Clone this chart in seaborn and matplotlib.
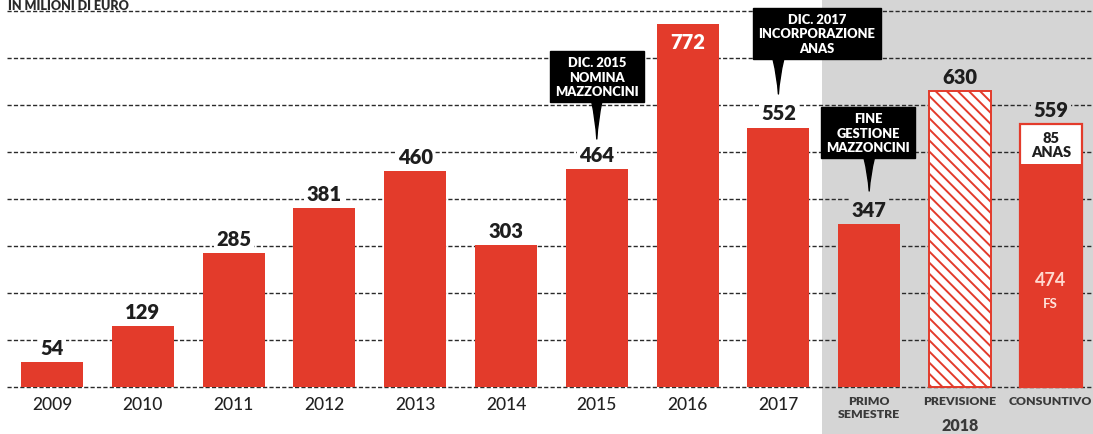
import matplotlib
matplotlib.use("Agg")
import matplotlib.pyplot as plt
import seaborn as sns
import pandas as pd

# ---- data ----
categories = ["2009", "2010", "2011", "2012", "2013", "2014", "2015", "2016", "2017",
              "PRIMO SEMESTRE", "PREVISIONE", "CONSUNTIVO"]
values = [54, 129, 285, 381, 460, 303, 464, 772, 552, 347, 630, 559]
tick_labels = ["2009", "2010", "2011", "2012", "2013", "2014", "2015", "2016", "2017",
               "PRIMO\nSEMESTRE", "PREVISIONE", "CONSUNTIVO"]
fs_value = 474
anas_value = 85
group_label = "2018"
unit_label = "IN MILIONI DI EURO"
callouts = [
    ("DIC. 2015\nNOMINA\nMAZZONCINI", "2015"),
    ("DIC. 2017\nINCORPORAZIONE\nANAS", "2017"),
    ("FINE\nGESTIONE\nMAZZONCINI", "PRIMO SEMESTRE"),
]
grid_values = [0, 100, 200, 300, 400, 500, 600, 700, 800]

RED = "#e33b2b"
GREY = "#d5d5d5"
DARK = "#1e1e1e"

sns.set_style("white")
plt.rcParams["font.family"] = ["Lato", "DejaVu Sans"]
plt.rcParams["hatch.linewidth"] = 1.4

W, H = 1093, 435
fig = plt.figure(figsize=(W / 100, H / 100), dpi=100)
ax = fig.add_axes([0, 0, 1, 1])

# pixel mapping helpers (layout only)
X0, DX = 52.0, 90.8
BASE, PPU = 388.0, 0.47
def px_x(p):
    return (p - X0) / DX
def px_y(p):
    return (BASE - p) / PPU

df = pd.DataFrame({"cat": categories, "val": values})
sns.barplot(data=df, x="cat", y="val", order=categories, color=RED, saturation=1,
            width=0.685, errorbar=None, ax=ax, zorder=2, linewidth=0)
bars = ax.containers[0]
# forecast bar: hatched
prev = bars[categories.index("PREVISIONE")]
prev.set_facecolor("white")
prev.set_edgecolor(RED)
prev.set_linewidth(1.4)
prev.set_hatch("\\\\\\")
# consuntivo total bar: white top part
cons = bars[categories.index("CONSUNTIVO")]
cons.set_facecolor("white")
cons.set_edgecolor(RED)
cons.set_linewidth(1.6)
# FS part
sns.barplot(x=["CONSUNTIVO"], y=[fs_value], order=categories, color=RED, saturation=1,
            width=0.685, errorbar=None, ax=ax, zorder=2.1, linewidth=0)

xmin, xmax = px_x(0), px_x(W)
ax.set_xlim(xmin, xmax)
ax.set_ylim(px_y(H), px_y(0))

# grey 2018 panel
ax.axvspan(px_x(822), xmax, color=GREY, zorder=0, lw=0)
# dashed gridlines
ax.hlines(grid_values, px_x(7), xmax, colors="#2a2a2a", linestyles=(0, (3, 1.6)),
          linewidth=1.0, zorder=1)

for s in ax.spines.values():
    s.set_visible(False)
ax.set_xticks([])
ax.set_yticks([])
ax.set_xlabel("")
ax.set_ylabel("")

# value labels
split = categories.index("PRIMO SEMESTRE") - 0.5
for i, (c, v) in enumerate(zip(categories, values)):
    if c == "2016":
        ax.text(i, v, str(v), ha="center", va="top", color="white", fontsize=14.5,
                fontweight="heavy", zorder=4,
                transform=ax.transData + matplotlib.transforms.ScaledTranslation(0, -8 / 100, fig.dpi_scale_trans))
        continue
    bg = "white" if i < split else GREY
    ax.annotate(str(v), (i, v), xytext=(0, 10.5), textcoords="offset points",
                ha="center", va="center", fontsize=14.5, fontweight="heavy", color=DARK,
                bbox=dict(boxstyle="square,pad=0.12", fc=bg, ec="none"), zorder=4)

ci = categories.index("CONSUNTIVO")
ax.text(ci, fs_value + anas_value / 2, f"{anas_value}\nANAS", ha="center", va="center",
        fontsize=10.5, fontweight="heavy", color=DARK, linespacing=1.1, zorder=4)
ax.text(ci, px_y(281), str(fs_value), ha="center", va="center", fontsize=13,
        fontweight="bold", color="#ffd9cf", zorder=4)
ax.text(ci, px_y(304), "FS", ha="center", va="center", fontsize=9.5,
        fontweight="bold", color="#ffe5dd", zorder=4)

# x labels
for i, lab in enumerate(tick_labels):
    if i < split:
        ax.text(i, px_y(405), lab, ha="center", va="center", fontsize=12.5,
                fontweight="medium", color="#222222")
    else:
        ax.text(i, px_y(396), lab, ha="center", va="top", fontsize=8.8, fontweight="heavy",
                color="#3a3a3a", linespacing=1.2)
ax.text(categories.index("PREVISIONE"), px_y(426), group_label, ha="center", va="center",
        fontsize=11.5, fontweight="heavy", color="#3a3a3a")

# unit label
fig.text(8 / W, 1 - 10 / H, unit_label, ha="left", va="baseline", fontsize=9,
         fontweight="heavy", color="#2a2a2a")

# callouts
box_geom = {
    "2015": (597, 52, 103, 140),
    "2017": (817, 7, 62, 95),
    "PRIMO SEMESTRE": (868, 107, 160, 192),
}
for text, cat in callouts:
    cx, top, bottom, tip = box_geom[cat]
    xi = categories.index(cat)
    ax.text(px_x(cx), px_y((top + bottom) / 2), text, ha="center", va="center",
            color="white", fontsize=9.3, fontweight="heavy", linespacing=1.25,
            bbox=dict(boxstyle="square,pad=0.4", fc="black", ec="black"), zorder=6)
    ax.annotate("", xy=(xi, px_y(tip)), xytext=(xi, px_y(bottom - 1)),
                arrowprops=dict(arrowstyle="wedge,tail_width=0.75,shrink_factor=0.35",
                                fc="black", ec="black", shrinkA=0, shrinkB=0),
                zorder=6)

fig.savefig("out.png", dpi=100)
